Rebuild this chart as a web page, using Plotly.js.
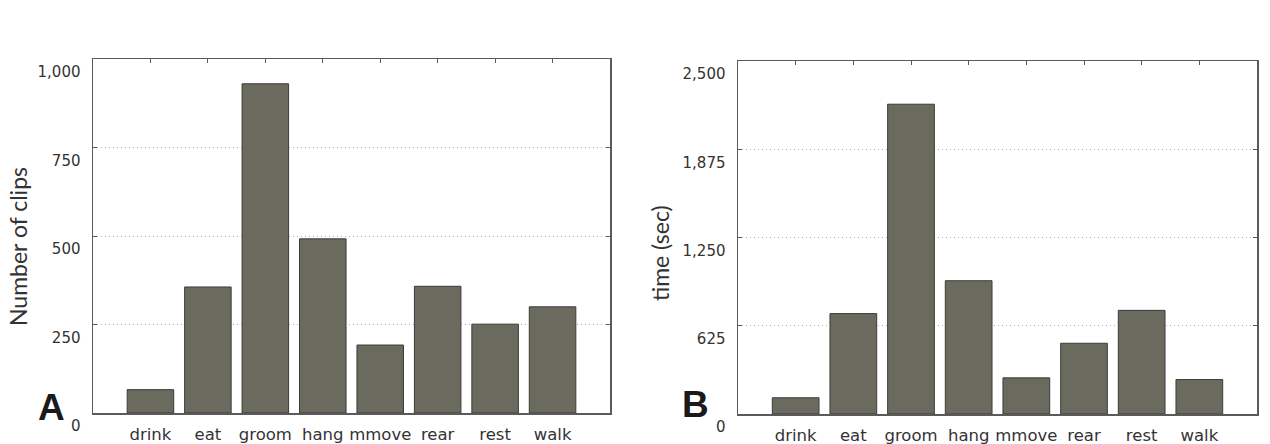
<!DOCTYPE html>
<html>
<head>
<meta charset="utf-8">
<script src="https://cdn.plot.ly/plotly-3.0.1.min.js"></script>
<style>html,body{margin:0;padding:0;background:#fff;}#chart{width:1270px;height:444px;}</style>
</head>
<body>
<div id="chart"></div>
<script>
const categories = ["drink", "eat", "groom", "hang", "mmove", "rear", "rest", "walk"];
const clipCounts = [66, 356, 930, 492, 192, 358, 251, 300];
const timeSec = [115, 711, 2194, 944, 256, 501, 734, 244];
const ticksA = [0, 250, 500, 750, 1000];
const ticksB = [0, 625, 1250, 1875, 2500];

const W = 1270, H = 444;
const px = v => v / W;
const py = v => 1 - v / H;

const barStyle = {color: "#6a6a5f", line: {color: "#3c3c38", width: 1}};

const traces = [
  {type: "bar", x: categories, y: clipCounts, xaxis: "x", yaxis: "y", marker: barStyle, width: 0.81, hoverinfo: "x+y"},
  {type: "bar", x: categories, y: timeSec, xaxis: "x2", yaxis: "y2", marker: barStyle, width: 0.81, hoverinfo: "x+y"}
];

const xBase = {
  type: "category", range: [-1, 8], showline: true, mirror: "ticks", linecolor: "#5a5a5a", linewidth: 1.5,
  ticks: "inside", ticklen: 4, tickcolor: "#5a5a5a", showgrid: false, zeroline: false,
  tickfont: {family: "DejaVu Sans", size: 16.5, color: "#333"}, ticklabelstandoff: 6, layer: "below traces"
};
const yBase = {
  showline: true, mirror: "ticks", linecolor: "#5a5a5a", linewidth: 1.5,
  ticks: "inside", ticklen: 4, tickcolor: "#5a5a5a", showgrid: true, gridcolor: "#b0b0b0", griddash: "1px,3px", gridwidth: 1,
  zeroline: false, tickformat: ",d", tickfont: {family: "DejaVu Sans", size: 15, color: "#333"},
  ticklabelshift: 13, ticklabelstandoff: 8, layer: "below traces"
};

const layout = {
  width: W, height: H, margin: {l: 0, r: 0, t: 0, b: 0}, showlegend: false, bargap: 0.19,
  paper_bgcolor: "#fff", plot_bgcolor: "#fff",
  xaxis: Object.assign({}, xBase, {domain: [px(93), px(610)], anchor: "y"}),
  yaxis: Object.assign({}, yBase, {domain: [py(413), py(59)], range: [0, 1000], tickvals: ticksA, anchor: "x"}),
  xaxis2: Object.assign({}, xBase, {domain: [px(738), px(1257)], anchor: "y2"}),
  yaxis2: Object.assign({}, yBase, {domain: [py(414), py(61)], range: [0, 2500], tickvals: ticksB, anchor: "x2"}),
  annotations: [
    {text: "Number of clips", xref: "paper", yref: "paper", x: px(18), y: py(247), textangle: -90, showarrow: false,
     font: {family: "Lato", size: 23, color: "#333"}, xanchor: "center", yanchor: "middle"},
    {text: "time (sec)", xref: "paper", yref: "paper", x: px(660), y: py(253), textangle: -90, showarrow: false,
     font: {family: "Lato", size: 23, color: "#333"}, xanchor: "center", yanchor: "middle"},
    {text: "<b>A</b>", xref: "paper", yref: "paper", x: px(51), y: py(407), showarrow: false,
     font: {family: "Liberation Sans", size: 37, color: "#1a1a1a"}, xanchor: "center", yanchor: "middle"},
    {text: "<b>B</b>", xref: "paper", yref: "paper", x: px(695), y: py(404), showarrow: false,
     font: {family: "Liberation Sans", size: 37, color: "#1a1a1a"}, xanchor: "center", yanchor: "middle"}
  ]
};

Plotly.newPlot("chart", traces, layout, {staticPlot: true});
</script>
</body>
</html>
